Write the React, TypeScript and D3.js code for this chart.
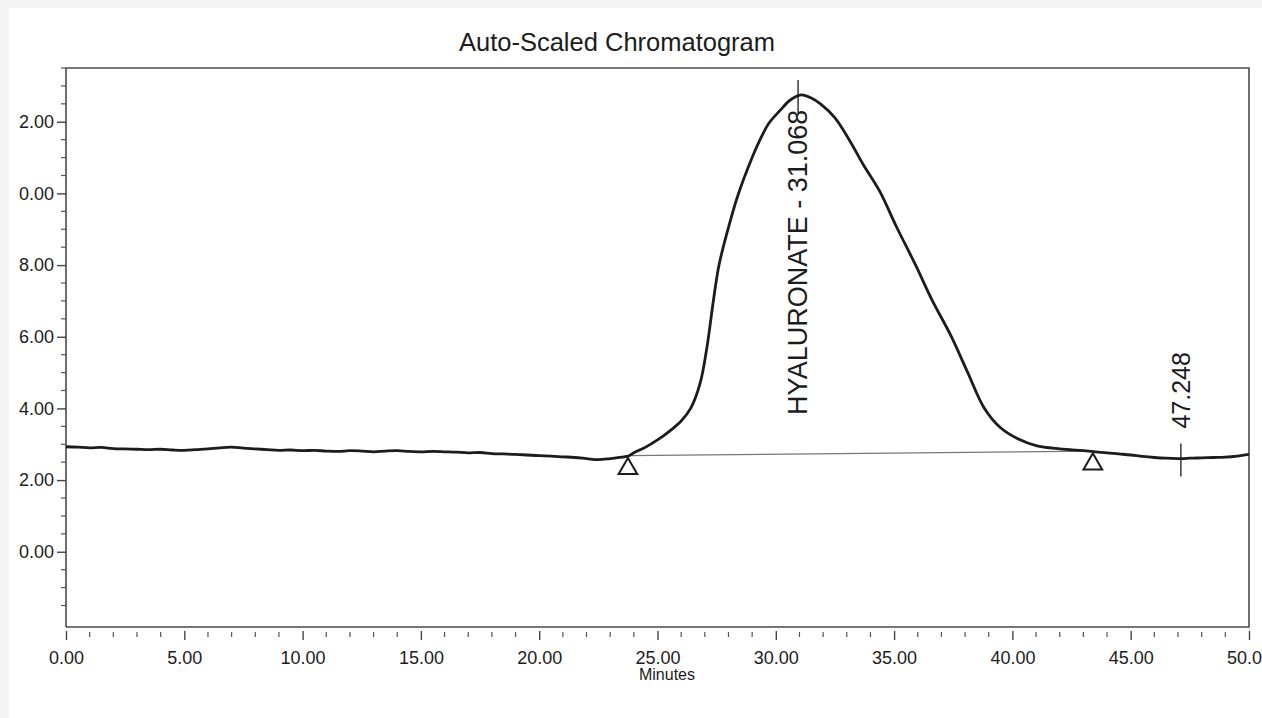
import React, { useEffect, useRef } from 'react';
import * as d3 from 'd3';

// trace (minutes, mV)
const minutes = [
  0, 0.5, 1, 1.5, 2, 2.5, 3, 3.5, 4, 4.5, 5, 5.5, 6, 6.5, 7, 7.5, 8, 8.5, 9, 9.5,
  10, 10.5, 11, 11.5, 12, 12.5, 13, 13.5, 14, 14.5, 15, 15.5, 16, 16.5, 17, 17.5,
  18, 18.5, 19, 19.5, 20, 20.5, 21, 21.5, 22, 22.5, 23, 23.5, 23.8,
  24, 24.5, 25, 25.5, 26, 26.4, 26.8, 27.1, 27.35, 27.6, 28, 28.4, 29, 29.3, 29.7,
  30.2, 30.6, 31.07, 31.5, 31.9, 32.5, 33.1, 33.7, 34.4, 35.1, 35.9, 36.6, 37.4,
  38.1, 38.8, 39.5, 40.3, 41, 42, 43, 43.5, 44, 44.5, 45, 45.5, 46, 46.5, 47,
  47.25, 47.5, 48, 48.5, 49, 49.5, 50
];
const signal = [
  2.93, 2.92, 2.90, 2.91, 2.88, 2.87, 2.86, 2.85, 2.86, 2.84, 2.83, 2.85, 2.87, 2.90, 2.92, 2.89, 2.87, 2.85, 2.83, 2.84,
  2.82, 2.83, 2.81, 2.80, 2.82, 2.81, 2.79, 2.81, 2.82, 2.80, 2.79, 2.80, 2.79, 2.78, 2.76, 2.77,
  2.74, 2.73, 2.72, 2.70, 2.68, 2.67, 2.65, 2.63, 2.60, 2.57, 2.60, 2.64, 2.68,
  2.76, 2.92, 3.12, 3.36, 3.65, 4.0, 4.7, 5.75, 6.95, 8.0, 9.05, 9.95, 11.0, 11.45, 11.95,
  12.33, 12.6, 12.75, 12.66, 12.49, 12.11, 11.5, 10.8, 10.05, 9.07, 8.01, 7.03, 6.03,
  5.02, 4.02, 3.46, 3.13, 2.96, 2.87, 2.82, 2.79, 2.76, 2.73, 2.70, 2.66, 2.63, 2.61, 2.60,
  2.60, 2.61, 2.62, 2.63, 2.64, 2.67, 2.72
];

const yTicks = [0, 2, 4, 6, 8, 10, 12];
const xTicks = [0, 5, 10, 15, 20, 25, 30, 35, 40, 45, 50];
const yRange = [-2.1, 13.5];

const peakTimes = [31.068, 47.248];
const peakLabels = ['HYALURONATE - 31.068', '47.248'];
const peakLevels = [12.75, 2.6];

const baseTimes = [23.75, 43.4];
const baseLevels = [2.68, 2.81];

export default function App() {
  const ref = useRef<SVGSVGElement | null>(null);

  useEffect(() => {
    document.body.style.background = '#f4f4f4';
    document.body.style.overflow = 'hidden';

    const svg = d3.select(ref.current);
    svg.selectAll('*').remove();

    const left = 66, right = 1249, top = 68, bottom = 627;
    const ink = '#1c1c1c';
    const font = '"Liberation Sans", Arial, sans-serif';

    svg.append('rect').attr('x', 9).attr('y', 8).attr('width', 1262).attr('height', 718).attr('fill', '#fff');

    const x = d3.scaleLinear().domain([0, 50]).range([left, right]);
    const y = d3.scaleLinear().domain(yRange).range([bottom, top]);

    // the scan cut the leading digits of the y labels
    svg.append('clipPath').attr('id', 'cut')
      .append('rect').attr('x', 19).attr('y', 0).attr('width', 1262).attr('height', 718);

    // frame
    svg.append('path')
      .attr('d', `M${left},${bottom}V${top}H${right}V${bottom}H${left}`)
      .attr('fill', 'none').attr('stroke', '#4a4a4a').attr('stroke-width', 1.6);

    // y axis
    const yAxis = svg.append('g').attr('clip-path', 'url(#cut)')
      .append('g').attr('transform', `translate(${left},0)`)
      .call(d3.axisLeft(y).tickValues(yTicks).tickSize(9).tickPadding(3).tickFormat(d3.format('.2f')));
    yAxis.select('.domain').remove();
    yAxis.selectAll('line').attr('stroke', '#444').attr('stroke-width', 1.4);
    yAxis.selectAll('text')
      .attr('fill', ink).style('font-family', font).style('font-size', '18px');
    const yMinor = d3.range(-2, 13.6, 0.5).filter(v => v % 2 !== 0);
    svg.append('g').selectAll('line').data(yMinor).join('line')
      .attr('x1', left - 5).attr('x2', left).attr('y1', d => y(d)).attr('y2', d => y(d))
      .attr('stroke', '#555').attr('stroke-width', 1.2);

    // x axis
    const xAxis = svg.append('g').attr('transform', `translate(0,${bottom + 4})`)
      .call(d3.axisBottom(x).tickValues(xTicks).tickSize(9).tickPadding(11).tickFormat(d3.format('.2f')));
    xAxis.select('.domain').remove();
    xAxis.selectAll('line').attr('stroke', '#444').attr('stroke-width', 1.4);
    xAxis.selectAll('text').attr('fill', ink).style('font-family', font).style('font-size', '18px');
    const xMinor = d3.range(1, 50).filter(v => v % 5 !== 0);
    svg.append('g').selectAll('line').data(xMinor).join('line')
      .attr('x1', d => x(d)).attr('x2', d => x(d)).attr('y1', bottom + 5).attr('y2', bottom + 10)
      .attr('stroke', '#555').attr('stroke-width', 1.2);

    svg.append('text').attr('x', 667).attr('y', 680).attr('text-anchor', 'middle')
      .style('font-family', font).style('font-size', '16px').attr('fill', ink).text('Minutes');

    svg.append('text').attr('x', 617).attr('y', 51).attr('text-anchor', 'middle')
      .style('font-family', font).style('font-size', '25.5px').attr('fill', ink)
      .text('Auto-Scaled Chromatogram');

    // integration baseline
    svg.append('line')
      .attr('x1', x(baseTimes[0])).attr('y1', y(baseLevels[0]))
      .attr('x2', x(baseTimes[1])).attr('y2', y(baseLevels[1]))
      .attr('stroke', '#777').attr('stroke-width', 1.2);

    // trace
    const line = d3.line<number>()
      .x((d, i) => x(minutes[i]))
      .y(d => y(d))
      .curve(d3.curveCatmullRom);
    svg.append('path').datum(signal)
      .attr('d', line).attr('fill', 'none')
      .attr('stroke', ink).attr('stroke-width', 2.8).attr('stroke-linejoin', 'round');

    // peak start/end triangles
    const tri = d3.symbol().type(d3.symbolTriangle).size(150);
    svg.append('g').selectAll('path').data(baseTimes).join('path')
      .attr('d', tri)
      .attr('transform', (d, i) => `translate(${x(d)},${y(baseLevels[i]) + 13})`)
      .attr('fill', '#fff').attr('stroke', ink).attr('stroke-width', 2);

    // retention time markers
    peakTimes.forEach((t, i) => {
      const px = x(t) - 3;
      const py = y(peakLevels[i]);
      svg.append('line').attr('x1', px).attr('x2', px).attr('y1', py - 15).attr('y2', py + 18)
        .attr('stroke', ink).attr('stroke-width', 1.3);
      svg.append('text')
        .attr('transform', `translate(${px + 9},${py + (i === 0 ? 320 : -30)}) rotate(-90)`)
        .style('font-family', font).style('font-size', i === 0 ? '27px' : '25px').attr('fill', ink)
        .text(peakLabels[i]);
    });
  }, []);

  return (
    <svg ref={ref} width={1262} height={718}
      style={{ position: 'fixed', left: 0, top: 0, display: 'block' }} />
  );
}
